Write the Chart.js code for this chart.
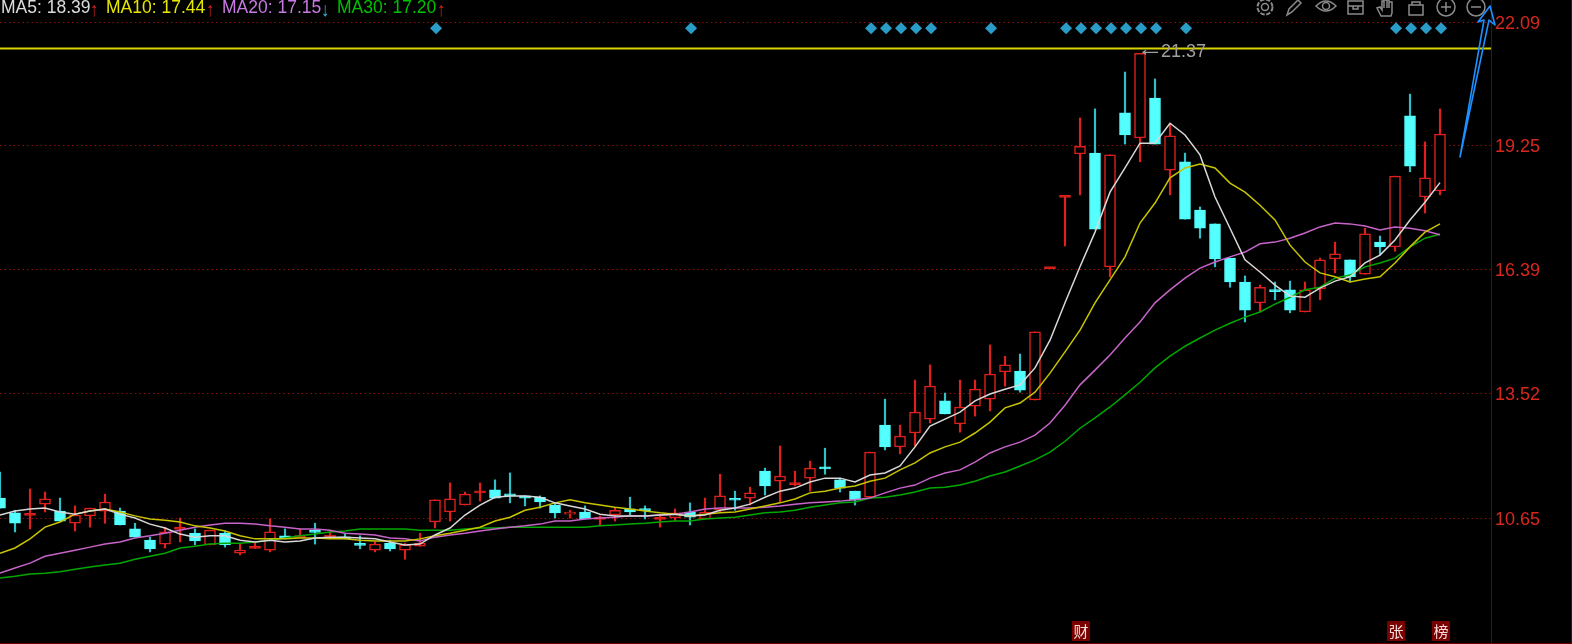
<!DOCTYPE html>
<html>
<head>
<meta charset="utf-8">
<script src="https://cdn.jsdelivr.net/npm/chart.js@4"></script>
<style>
html, body { margin: 0; padding: 0; background: #000; overflow: hidden; }
#wrap { position: relative; width: 1572px; height: 644px; box-sizing: border-box; border-right: 1px solid #6e0000; border-bottom: 1px solid #6e0000; overflow: hidden; }
canvas { display: block; }
#legend span { position: absolute; top: -3px; font: 17.5px "Liberation Sans", Arial, sans-serif; white-space: nowrap; }
#legend span.arrow { top: -2px; font-size: 20px; transform: scaleX(0.8); }
.tag { position: absolute; top: 621px; width: 18px; height: 20px; text-align: center; background: #7a0000; color: #f0dcdc; font: 15px/19px "Noto Sans CJK SC", sans-serif; }
svg { position: absolute; left: 0; top: 0; }
</style>
</head>
<body>
<div id="wrap">
<canvas id="kline" width="1571" height="643"></canvas>
<div id="legend">
  <span style="left:1px;color:#dcdcdc">MA5: 18.39</span><span class="arrow" style="left:89px;color:#e02020">↑</span>
  <span style="left:106px;color:#e6e600">MA10: 17.44</span><span class="arrow" style="left:205px;color:#e02020">↑</span>
  <span style="left:222px;color:#c77ae0">MA20: 17.15</span><span class="arrow" style="left:320px;color:#35b5d8">↓</span>
  <span style="left:337px;color:#00c000">MA30: 17.20</span><span class="arrow" style="left:436px;color:#e02020">↑</span>
</div>
<div class="tag" style="left:1072px">财</div>
<div class="tag" style="left:1387px">张</div>
<div class="tag" style="left:1432px">榜</div>
<svg width="1572" height="644" fill="none" stroke="#8a8a8a" stroke-width="1.5">
  <!-- toolbar -->
  <circle cx="1265" cy="7" r="3.5"/><circle cx="1265" cy="7" r="7.5" stroke-width="2" stroke-dasharray="4.5 1.5"/>
  <path d="M1287 15l2-6 9-9 3 3-9 9z"/>
  <path d="M1316 6q10-10 20 0q-10 10-20 0z"/><circle cx="1326" cy="6" r="3.5"/>
  <path d="M1348 1h15v13h-15zM1348 6h15M1353 6v3h5v-3"/>
  <path d="M1381 16l-4-8 3-1 2 3v-9h2v7-8h3v8-8h2v8-6h3v11l-1 3z"/>
  <path d="M1409 5h14v10h-14zM1412 5v-3h8v3"/>
  <circle cx="1446" cy="7" r="9"/><path d="M1441 7h10M1446 2v10"/>
  <circle cx="1476" cy="7" r="9"/><path d="M1471 7h10"/>
  <!-- hand drawn arrow -->
  <path d="M1460 157L1484 20 1478 22 1490 6 1495 25 1489 20z" stroke="#1e90ff" stroke-width="1.6" stroke-linejoin="round"/>
</svg>
</div>
<script>
// price levels on the right hand axis
const yTicks = [22.09, 19.25, 16.39, 13.52, 10.65];
const resistance = 21.48;
const topMark = 21.37;
const markerY = 21.95;
const markerDays = [29, 46, 58, 59, 60, 61, 62, 66, 71, 72, 73, 74, 75, 76, 77, 79, 93, 94, 95, 96];

const opens = [
  11.12,10.78,10.72,10.98,10.82,10.54,10.71,10.82,10.82,10.41,10.15,10.06,10.40,10.31,10.04,10.31,9.85,9.96,9.92,10.25,
  10.21,10.35,10.22,10.22,10.05,9.92,10.08,9.92,10.01,10.57,10.80,10.96,11.24,11.31,11.21,11.17,11.14,10.96,10.75,10.80,
  10.63,10.73,10.87,10.85,10.63,10.66,10.80,10.64,10.84,11.09,11.12,11.74,11.51,11.43,11.58,11.84,11.54,11.28,11.14,12.80,
  12.30,12.62,12.94,13.36,12.83,13.24,13.40,14.03,14.05,13.38,16.41,18.05,19.05,19.07,16.45,20.00,19.42,20.34,18.68,18.87,
  17.76,17.44,16.65,16.10,15.62,15.90,15.92,15.41,15.94,16.63,16.61,16.28,17.02,16.91,19.93,18.06,18.20];
const closes = [
  10.89,10.54,10.74,11.10,10.59,10.73,10.89,11.03,10.50,10.22,9.95,10.34,10.42,10.13,10.38,10.04,9.92,9.98,10.34,10.18,
  10.23,10.33,10.27,10.18,10.03,10.06,9.95,10.04,10.08,11.08,11.10,11.21,11.28,11.12,11.17,11.12,11.03,10.78,10.80,10.64,
  10.65,10.84,10.80,10.83,10.65,10.78,10.68,10.80,11.17,11.07,11.24,11.40,11.63,11.45,11.81,11.79,11.35,11.08,12.18,12.30,
  12.55,13.10,13.70,13.06,13.22,13.63,13.98,14.19,13.61,14.95,16.43,18.07,19.23,17.32,19.03,19.49,21.37,19.28,19.47,17.55,
  17.34,16.63,16.10,15.45,15.98,15.88,15.45,15.92,16.61,16.75,16.22,17.21,16.91,18.54,18.77,18.50,19.51];
const highs = [
  11.72,10.84,11.33,11.26,11.12,10.94,10.89,11.21,10.89,10.54,10.22,10.45,10.66,10.41,10.38,10.36,10.06,10.08,10.64,10.41,
  10.41,10.54,10.36,10.31,10.25,10.11,10.15,10.08,10.31,11.08,11.47,11.26,11.47,11.54,11.70,11.17,11.17,11.01,10.84,10.94,
  10.71,10.89,11.14,10.94,10.73,10.87,11.01,11.12,11.67,11.28,11.37,11.81,12.32,11.74,11.97,12.27,11.58,11.28,12.18,13.40,
  12.80,13.84,14.19,13.54,13.84,13.84,14.65,14.39,14.44,14.95,16.43,18.07,19.88,20.09,19.03,20.94,21.37,20.78,19.74,19.07,
  17.83,17.44,16.65,16.24,16.03,16.10,16.12,16.10,16.65,17.02,16.61,17.34,17.16,18.54,20.43,19.33,20.09];
const lows = [
  10.89,10.34,10.41,10.80,10.59,10.36,10.45,10.54,10.50,10.22,9.88,9.97,10.11,10.04,10.04,9.99,9.81,9.96,9.88,10.18,
  10.21,10.06,10.18,10.18,9.95,9.88,9.90,9.71,10.01,10.43,10.59,10.96,11.05,11.12,11.01,10.94,10.89,10.66,10.66,10.64,
  10.48,10.59,10.73,10.64,10.45,10.59,10.50,10.64,10.80,10.84,10.96,11.19,11.03,11.40,11.28,11.67,11.26,10.96,11.14,12.23,
  12.14,12.32,12.85,13.06,12.64,13.01,13.13,13.70,13.56,13.38,16.41,16.93,18.11,17.32,16.22,19.28,18.87,19.28,18.11,17.55,
  17.11,16.45,15.98,15.18,15.41,15.69,15.39,15.41,15.69,16.31,16.10,16.28,16.72,16.81,18.64,17.69,18.11];

const ma5 = [
  10.73,10.82,10.87,10.89,10.80,10.75,10.82,10.87,10.75,10.66,10.52,10.43,10.29,10.22,10.25,10.25,10.15,10.11,10.15,10.11,
  10.13,10.20,10.22,10.22,10.20,10.18,10.11,10.04,10.06,10.27,10.43,10.73,10.96,11.14,11.17,11.17,11.14,11.01,10.94,10.87,
  10.75,10.71,10.71,10.71,10.73,10.75,10.71,10.73,10.84,10.89,10.98,11.14,11.28,11.35,11.49,11.58,11.58,11.49,11.65,11.70,
  11.86,12.30,12.78,12.94,13.10,13.36,13.52,13.63,13.73,14.12,14.76,15.62,16.45,17.25,18.17,18.73,19.30,19.30,19.76,19.49,
  19.03,18.06,17.34,16.61,16.33,16.03,15.78,15.75,15.96,16.12,16.22,16.54,16.72,17.07,17.53,17.94,18.39];
const ma10 = [
  9.85,9.97,10.18,10.45,10.57,10.75,10.82,10.87,10.80,10.71,10.64,10.61,10.57,10.48,10.43,10.36,10.25,10.18,10.18,10.18,
  10.20,10.20,10.18,10.18,10.15,10.13,10.13,10.13,10.18,10.25,10.31,10.38,10.45,10.59,10.68,10.84,10.91,11.01,11.08,11.01,
  10.96,10.91,10.87,10.82,10.78,10.75,10.71,10.75,10.78,10.80,10.87,10.94,11.01,11.10,11.24,11.28,11.35,11.40,11.51,11.58,
  11.77,11.93,12.16,12.30,12.41,12.62,12.87,13.20,13.31,13.56,14.00,14.49,14.99,15.62,16.15,16.68,17.46,17.92,18.50,18.73,
  18.82,18.73,18.38,18.17,17.87,17.53,16.95,16.56,16.31,16.22,16.10,16.17,16.22,16.54,16.91,17.25,17.44];
const ma20 = [
  9.39,9.51,9.62,9.78,9.85,9.92,9.99,10.06,10.11,10.20,10.25,10.31,10.38,10.45,10.50,10.54,10.54,10.52,10.48,10.45,
  10.41,10.41,10.38,10.31,10.29,10.27,10.20,10.18,10.13,10.22,10.27,10.31,10.36,10.41,10.45,10.48,10.52,10.59,10.59,10.64,
  10.66,10.68,10.71,10.71,10.73,10.75,10.80,10.87,10.89,10.89,10.89,10.91,10.94,10.98,11.01,11.03,11.05,11.08,11.12,11.24,
  11.35,11.42,11.58,11.70,11.77,11.95,12.16,12.30,12.41,12.57,12.85,13.26,13.73,14.07,14.42,14.81,15.18,15.62,15.92,16.19,
  16.42,16.56,16.68,16.79,16.98,17.02,17.11,17.23,17.37,17.46,17.44,17.39,17.30,17.37,17.34,17.28,17.19];
const ma30 = [
  9.28,9.32,9.37,9.39,9.42,9.48,9.53,9.58,9.62,9.71,9.78,9.85,9.97,10.01,10.06,10.08,10.08,10.11,10.15,10.20,
  10.25,10.29,10.34,10.36,10.41,10.41,10.41,10.41,10.38,10.38,10.38,10.41,10.43,10.43,10.45,10.45,10.45,10.45,10.45,10.45,
  10.48,10.50,10.52,10.54,10.57,10.59,10.59,10.64,10.66,10.68,10.73,10.78,10.80,10.84,10.91,10.96,11.01,11.03,11.12,11.14,
  11.19,11.26,11.35,11.37,11.42,11.51,11.63,11.72,11.86,12.00,12.18,12.43,12.73,12.97,13.22,13.50,13.79,14.12,14.39,14.62,
  14.81,14.99,15.15,15.29,15.41,15.59,15.75,15.92,15.98,16.19,16.26,16.45,16.54,16.65,16.91,17.11,17.20];

const red = '#e0201c';
const cyan = '#54ffff';
const wickCyan = '#2fc0c8';
const lastX = 99.4;

const days = opens.map((v, i) => i);
const upDays = days.filter(i => closes[i] >= opens[i]);
const downDays = days.filter(i => closes[i] < opens[i]);

function wicks(list) {
    return list.map(i => ({ x: i, y: [lows[i], highs[i]] }));
}
function bodies(list) {
    return list.map(i => ({ x: i, y: [opens[i], closes[i]] }));
}
function maLine(label, values, color, order) {
    return {
        type: 'line', label: label, order: order,
        data: values.map((v, i) => ({ x: i, y: v })),
        borderColor: color, borderWidth: 1.5, pointRadius: 0, tension: 0
    };
}

// the little pointer next to the highest candle
const highLabel = {
    id: 'highLabel',
    afterDatasetsDraw(chart) {
        const ctx = chart.ctx;
        const px = chart.scales.x.getPixelForValue(closes.indexOf(topMark));
        const py = chart.scales.y.getPixelForValue(topMark) - 1;
        ctx.save();
        ctx.strokeStyle = '#a0a0a0';
        ctx.lineWidth = 1.2;
        ctx.beginPath();
        ctx.moveTo(px + 3, py);
        ctx.lineTo(px + 18, py);
        ctx.moveTo(px + 6, py - 2);
        ctx.lineTo(px + 3, py);
        ctx.lineTo(px + 6, py + 2);
        ctx.stroke();
        ctx.fillStyle = '#a0a0a0';
        ctx.font = '18px "Liberation Sans", Arial, sans-serif';
        ctx.textBaseline = 'middle';
        ctx.fillText(topMark.toFixed(2), px + 21, py);
        ctx.restore();
    }
};

new Chart(document.getElementById('kline').getContext('2d'), {
    type: 'bar',
    plugins: [highLabel],
    data: {
        datasets: [
            { label: 'wick up', order: 12, data: wicks(upDays), backgroundColor: red, barThickness: 1.5, grouped: false },
            { label: 'wick down', order: 11, data: wicks(downDays), backgroundColor: wickCyan, barThickness: 1.5, grouped: false },
            {
                label: 'body up', order: 10, data: bodies(upDays),
                // hollow candles, except the ones that are only a dash
                backgroundColor: upDays.map(i => closes[i] - opens[i] < 0.05 ? red : '#000'),
                borderColor: red, borderWidth: 1.5, borderSkipped: false, barThickness: 11, minBarLength: 2, grouped: false
            },
            { label: 'body down', order: 9, data: bodies(downDays), backgroundColor: cyan, borderColor: cyan, borderWidth: 1, borderSkipped: false, barThickness: 11, minBarLength: 2, grouped: false },
            maLine('MA30', ma30, '#00a800', 5),
            maLine('MA20', ma20, '#c664c8', 4),
            maLine('MA10', ma10, '#c8c400', 3),
            maLine('MA5', ma5, '#d8d8d8', 2),
            {
                type: 'line', label: 'level', order: 1,
                data: [{ x: 0, y: resistance }, { x: lastX, y: resistance }],
                borderColor: '#d8d400', borderWidth: 2, pointRadius: 0
            },
            {
                type: 'line', label: 'signal', order: 0, showLine: false,
                data: markerDays.map(i => ({ x: i + 0.07, y: markerY })),
                pointStyle: 'rectRot', pointRadius: 6, pointBackgroundColor: '#2a9cc8', pointBorderWidth: 0
            }
        ]
    },
    options: {
        responsive: false,
        animation: false,
        events: [],
        layout: { padding: 0, autoPadding: false },
        plugins: { legend: { display: false }, tooltip: { enabled: false } },
        scales: {
            x: { type: 'linear', display: false, offset: false, min: 0, max: lastX, grid: { display: false } },
            y: {
                position: 'right',
                min: 7.78,
                max: 22.6,
                afterBuildTicks(scale) {
                    scale.ticks = yTicks.map(v => ({ value: v }));
                },
                afterFit(scale) {
                    scale.width = 80;
                    // tick labels must not push the plot away from the page edges
                    scale.paddingTop = 0;
                    scale.paddingBottom = 0;
                },
                ticks: {
                    color: '#d8281e',
                    padding: 4,
                    autoSkip: false,
                    maxRotation: 0,
                    // empty first line + tiny line height nudges the label down a bit
                    font: { family: '"Liberation Sans", Arial, sans-serif', size: 18, lineHeight: '3px' },
                    callback: v => ['', v.toFixed(2)]
                },
                grid: { color: '#8a1010', lineWidth: 1, drawTicks: false },
                border: { color: '#6e0000', width: 1, dash: [1.5, 3] }
            }
        }
    }
});
</script>
</body>
</html>
